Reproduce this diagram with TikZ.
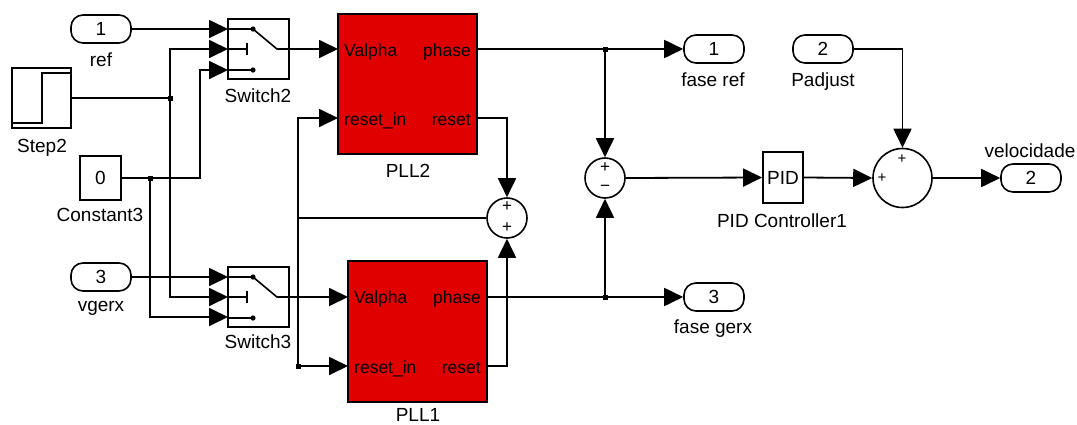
\documentclass[tikz,border=0pt]{standalone}
\usepackage{fontspec}
\setmainfont{Liberation Sans}
\usetikzlibrary{arrows.meta}
\definecolor{pllred}{RGB}{224,0,0}
\begin{document}
\begin{tikzpicture}[x=1pt,y=-1pt,
  wire/.style={draw, line width=1.8pt},
  sig/.style={wire, -{Triangle[length=19pt,width=18pt]}},
  lbl/.style={font=\fontsize{19}{22}\selectfont, inner sep=0pt, anchor=base},
  portl/.style={font=\fontsize{17.5}{20}\selectfont, inner sep=0pt, anchor=base west},
  portr/.style={font=\fontsize{17.5}{20}\selectfont, inner sep=0pt, anchor=base east},
  io/.style={draw, line width=1.6pt, rounded corners=12pt, minimum width=60pt, minimum height=28pt, inner sep=0pt, font=\fontsize{19}{22}\selectfont},
  blk/.style={draw, line width=1.8pt, inner sep=0pt, font=\fontsize{19}{22}\selectfont},
  sumc/.style={draw, line width=1.6pt, circle, inner sep=0pt},
  sgn/.style={font=\fontsize{17}{18}\selectfont, inner sep=0pt},
  sgns/.style={font=\fontsize{15}{16}\selectfont, inner sep=0pt},
  dotj/.style={fill, minimum size=5pt, inner sep=0pt},
]
\useasboundingbox (0,0) rectangle (1077,424);

% ports
\node[io] (ref) at (101,29) {1};
\node[lbl] (reflbl) at (101,66) {ref};
\node[io] (vgerx) at (101,277) {3};
\node[lbl] (vgerxlbl) at (101,311) {vgerx};
\node[io] (pad) at (823,49) {2};
\node[lbl] (padlbl) at (823,86) {Padjust};
\node[io] (faseref) at (714,49) {1};
\node[lbl] (bfaseref) at (713,86) {fase ref};
\node[io] (fasegerx) at (714,297) {3};
\node[lbl] (bfasegerx) at (713,333) {fase gerx};
\node[io] (vel) at (1031,178) {2};
\node[lbl] (vellbl) at (1030,157) {velocidade};

% step
\node[blk, minimum width=59pt, minimum height=60pt] (step) at (41.5,98) {};
\draw[line width=1.4pt] (12,123) -- (42,123) -- (42,73) -- (70,73);
\node[lbl] (steplbl) at (42,152) {Step2};

% constant
\node[blk, minimum width=41pt, minimum height=44pt] (const) at (100.5,178) {0};
\node[lbl] (constlbl) at (100,221) {Constant3};

% switches
\node[blk, minimum width=61pt, minimum height=60pt] (sw2) at (258.5,49) {};
\node[lbl] (sw2lbl) at (258,102) {Switch2};
\node[blk, minimum width=61pt, minimum height=60pt] (sw3) at (258.5,297) {};
\node[lbl] (sw3lbl) at (258,348) {Switch3};
\foreach \yy in {19,267}{
  \draw[line width=1.6pt] (228,\yy+10) -- (253,\yy+10) -- (277,\yy+30) -- (289,\yy+30);
  \draw[line width=1.6pt] (228,\yy+30) -- (247,\yy+30);
  \draw[line width=1.6pt] (247,\yy+24) -- (247,\yy+36);
  \draw[line width=1.6pt] (228,\yy+51) -- (253,\yy+51);
  \fill (253,\yy+10) circle (2.6pt);
  \fill (253,\yy+51) circle (2.6pt);
}
\coordinate (sw2a) at (228,29);
\coordinate (sw2b) at (228,49);
\coordinate (sw2c) at (228,70);
\coordinate (sw3a) at (228,277);
\coordinate (sw3b) at (228,297);
\coordinate (sw3c) at (228,317);

% PLL blocks
\node[blk, fill=pllred, minimum width=139pt, minimum height=140pt] (pll2) at (407.5,84) {};
\node[portl] at (344,56) {Valpha};
\node[portr] at (471,56) {phase};
\node[portl] at (344,125) {reset\_in};
\node[portr] at (471,125) {reset};
\node[lbl] (pll2lbl) at (408,177) {PLL2};
\coordinate (pll2vin) at (338,49);
\coordinate (pll2rin) at (338,118);
\coordinate (pll2ph) at (477,49);
\coordinate (pll2rs) at (477,118);

\node[blk, fill=pllred, minimum width=139pt, minimum height=141pt] (pll1) at (417.5,331.5) {};
\node[portl] at (354,303) {Valpha};
\node[portr] at (481,303) {phase};
\node[portl] at (354,373) {reset\_in};
\node[portr] at (481,373) {reset};
\node[lbl] (pll1lbl) at (418,421) {PLL1};
\coordinate (pll1vin) at (348,297);
\coordinate (pll1rin) at (348,366);
\coordinate (pll1ph) at (487,297);
\coordinate (pll1rs) at (487,366);

% sums
\node[sumc, minimum size=40pt] (s1) at (507,218) {};
\node[sgn] at (507,207) {+};
\node[sgn] at (507,228) {+};
\node[sumc, minimum size=40pt] (s2) at (605,178) {};
\node[sgn] at (605,168) {+};
\node[sgn] at (605,188) {−};
\node[sumc, minimum size=59pt] (s3) at (902.5,178) {};
\node[sgns] at (902,159) {+};
\node[sgns] at (882,178) {+};

% PID
\node[blk, minimum width=40pt, minimum height=51pt] (pid) at (783,177.5) {PID};
\node[lbl] (pidlbl) at (782,227) {PID Controller1};

% junctions
\coordinate (j1) at (170,98);
\coordinate (j2) at (150,178);
\coordinate (j3) at (605,49);
\coordinate (j4) at (605,297);
\coordinate (j5) at (298,218);
\coordinate (j6) at (298,366);

% connectors
\draw[sig] (ref.east) -- (sw2a);
\draw[wire] (step.east) -- (j1);
\draw[sig] (j1) |- (sw2b);
\draw[sig] (j1) |- (sw3b);
\draw[wire] (const.east) -- (j2);
\draw[sig] (j2) -- ++(50,0) |- (sw2c);
\draw[sig] (j2) |- (sw3c);
\draw[sig] (vgerx.east) -- (sw3a);
\draw[sig] (sw2.east) -- (pll2vin);
\draw[sig] (sw3.east) -- (pll1vin);
\draw[wire] (pll2ph) -- (j3);
\draw[sig] (j3) -- (faseref.west);
\draw[sig] (j3) -- (s2.north);
\draw[wire] (pll1ph) -- (j4);
\draw[sig] (j4) -- (fasegerx.west);
\draw[sig] (j4) -- (s2.south);
\draw[sig] (pll2rs) -| (s1.north);
\draw[sig] (pll1rs) -| (s1.south);
\draw[wire] (s1.west) -- (j5);
\draw[sig] (j5) |- (pll2rin);
\draw[sig] (j5) |- (pll1rin);
\draw[sig] (s2.east) -- (pid.west);
\draw[sig] (pid.east) -- (s3.west);
\draw[sig] (pad.east) -| (s3.north);
\draw[sig] (s3.east) -- (vel.west);

\node[dotj] at (j1) {};
\node[dotj] at (j2) {};
\node[dotj] at (j3) {};
\node[dotj] at (j4) {};
\node[dotj] at (j6) {};
\end{tikzpicture}
\end{document}
